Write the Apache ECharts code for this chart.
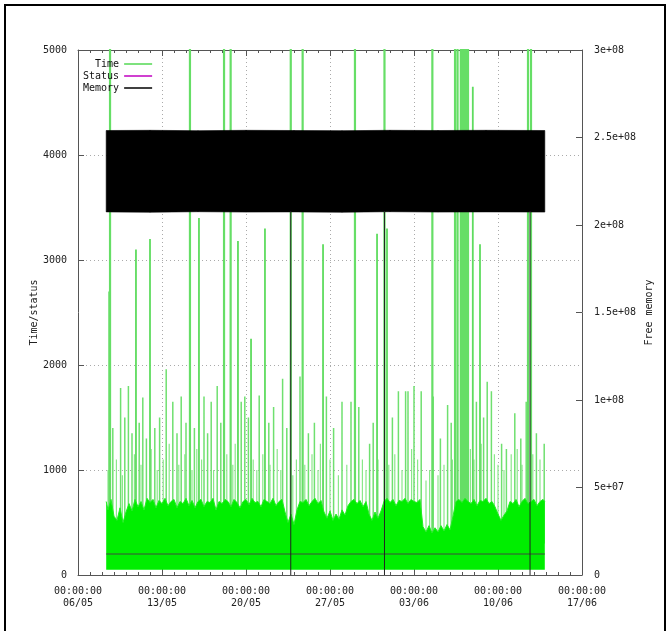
<!DOCTYPE html>
<html><head><meta charset="utf-8">
<script src="https://cdn.jsdelivr.net/npm/echarts@6/dist/echarts.min.js"></script>
<style>html,body{margin:0;padding:0;background:#fff}#c{width:670px;height:631px}</style>
</head><body><div id="c"></div>
<script>
// x values are days since 06/05 00:00:00
const xTickLabels = ['00:00:00\n06/05','00:00:00\n13/05','00:00:00\n20/05','00:00:00\n27/05','00:00:00\n03/06','00:00:00\n10/06','00:00:00\n17/06'];
const memTickLabels = ['0','5e+07','1e+08','1.5e+08','2e+08','2.5e+08','3e+08'];

// Time: dense body (top of solid green), [day, ms]
const timeBody = [[2.35,700],[2.5,620],[2.75,720],[3.0,560],[3.25,520],[3.5,640],[3.75,500],[4.0,600],[4.25,680],[4.5,610],[4.75,720],[5.0,650],[5.25,700],[5.5,620],[5.75,730],[6.0,690],[6.25,720],[6.5,640],[6.75,710],[7.0,680],[7.25,730],[7.5,660],[7.75,700],[8.0,720],[8.25,640],[8.5,700],[8.75,680],[9.0,730],[9.25,660],[9.5,710],[9.75,640],[10.0,700],[10.25,720],[10.5,650],[10.75,700],[11.0,690],[11.25,730],[11.5,620],[11.75,700],[12.0,680],[12.25,720],[12.5,700],[12.75,650],[13.0,720],[13.25,690],[13.5,640],[13.75,700],[14.0,720],[14.25,670],[14.5,730],[14.75,690],[15.0,700],[15.25,650],[15.5,720],[15.75,700],[16.0,680],[16.25,730],[16.5,660],[16.75,700],[17.0,720],[17.25,600],[17.5,500],[17.75,580],[18.0,480],[18.25,620],[18.5,700],[18.75,690],[19.0,720],[19.25,660],[19.5,700],[19.75,730],[20.0,680],[20.25,710],[20.5,600],[20.75,540],[21.0,610],[21.25,520],[21.5,580],[21.75,530],[22.0,620],[22.25,570],[22.5,660],[22.75,700],[23.0,720],[23.25,680],[23.5,710],[23.75,650],[24.0,700],[24.25,580],[24.5,520],[24.75,600],[25.0,540],[25.25,610],[25.5,700],[25.75,730],[26.0,690],[26.25,720],[26.5,660],[26.75,710],[27.0,700],[27.25,730],[27.5,680],[27.75,720],[28.0,700],[28.25,690],[28.5,720],[28.75,460],[29.0,410],[29.25,470],[29.5,400],[29.75,450],[30.0,410],[30.25,470],[30.5,420],[30.75,480],[31.0,430],[31.25,560],[31.5,700],[31.75,720],[32.0,690],[32.25,730],[32.5,700],[32.75,680],[33.0,720],[33.25,660],[33.5,710],[33.75,700],[34.0,730],[34.25,680],[34.5,700],[34.75,650],[35.0,580],[35.25,520],[35.5,570],[35.75,610],[36.0,700],[36.25,680],[36.5,720],[36.75,650],[37.0,700],[37.25,730],[37.5,680],[37.75,700],[38.0,720],[38.25,660],[38.5,700],[38.75,720],[38.9,700]];
const timeBodyFloor = 50;

// Time: spikes above the dense body, [day, ms]
const timeSpikesLow = [[2.5,1000],[3.2,1100],[3.7,950],[4.7,1150],[5.25,1050],[6.1,1200],[6.6,1000],[7.1,1100],[7.6,1250],[8.4,1050],[8.9,1150],[9.5,1000],[9.9,1200],[10.3,1100],[11.3,1000],[12.4,1150],[12.9,1050],[13.1,1250],[14.6,1100],[14.9,1000],[15.4,1150],[16.0,1050],[16.6,1200],[16.9,1000],[17.9,950],[18.2,1100],[18.9,1050],[19.5,1150],[20.0,1000],[20.2,1250],[21.0,1100],[21.7,950],[22.4,1050],[23.7,1100],[24.0,1000],[25.0,1100],[25.9,1050],[26.4,1150],[27.0,1000],[27.8,1200],[28.3,1100],[29.0,900],[29.3,1000],[30.0,950],[30.5,1050],[31.2,1100],[32.7,1200],[33.0,1100],[33.6,1250],[34.7,1150],[35.0,1050],[35.5,1000],[36.1,1150],[36.6,1200],[37.0,1050],[37.9,1150],[38.5,1100]];
const timeSpikesMid = [[2.9,1400],[3.55,1780],[3.9,1500],[4.2,1800],[4.5,1350],[5.1,1450],[5.4,1690],[5.7,1300],[6.4,1400],[6.8,1500],[7.35,1960],[7.9,1650],[8.25,1350],[8.6,1700],[9.0,1450],[9.7,1400],[10.5,1700],[10.8,1350],[11.1,1650],[11.6,1800],[11.9,1450],[13.6,1650],[13.9,1700],[14.2,1500],[15.1,1710],[15.9,1450],[16.3,1600],[17.05,1870],[17.4,1400],[18.5,1890],[19.2,1350],[19.7,1450],[20.7,1700],[21.3,1400],[22.0,1650],[22.75,1650],[23.4,1600],[24.3,1250],[24.6,1450],[26.2,1500],[26.7,1750],[27.3,1750],[27.5,1750],[28.0,1800],[28.6,1750],[29.6,1700],[30.2,1300],[30.8,1620],[31.1,1450],[33.2,1650],[33.8,1500],[34.1,1840],[34.45,1750],[35.3,1250],[35.7,1200],[36.4,1540],[36.9,1300],[37.35,1650],[38.2,1350],[38.85,1250]];
const timeSpikesHigh = [[2.6,2700],[4.83,3100],[6.0,3200],[10.08,3400],[13.33,3180],[14.42,2250],[15.58,3300],[20.42,3150],[24.92,3250],[25.75,3300],[32.9,4650],[33.5,3150]];
const timeSpikesOff = [[2.67,6000],[9.33,6000],[12.17,6000],[12.72,6000],[17.73,6000],[18.72,6000],[23.08,6000],[25.54,6000],[29.53,6000],[31.42,6000],[31.63,6000],[31.9,6000],[32.0,6000],[32.1,6000],[32.2,6000],[32.3,6000],[32.4,6000],[32.5,6000],[37.5,6000],[37.75,6000]];

// Status: [day, code]
const statusData = [[2.35,200],[38.9,200]];

// Free memory band: [day, low, high]
const memBand = [[2.35,2.075e8,2.54e8],[6,2.073e8,2.541e8],[10,2.076e8,2.539e8],[14,2.074e8,2.541e8],[18,2.075e8,2.54e8],[22,2.073e8,2.539e8],[26,2.076e8,2.541e8],[30,2.074e8,2.54e8],[34,2.075e8,2.541e8],[38.9,2.074e8,2.54e8]];
// Free memory drops to zero: [day, value before, value at drop]
const memDrops = [[17.73,2.08e8,0],[25.54,2.08e8,0],[37.67,2.08e8,0]];

function spikeLine(list, base) {
  const out = [];
  list.forEach(p => { out.push([p[0], base]); out.push([p[0], p[1]]); out.push([p[0], '-']); });
  return out;
}
const dropLine = [];
memDrops.forEach(p => { dropLine.push([p[0], p[1]]); dropLine.push([p[0], p[2]]); dropLine.push([p[0], '-']); });

function renderBand(params, api) {
  const i = params.dataIndex;
  if (i >= memBand.length - 1) return null;
  const a = memBand[i], b = memBand[i + 1];
  const pts = [api.coord([a[0], a[2]]), api.coord([b[0], b[2]]), api.coord([b[0], b[1]]), api.coord([a[0], a[1]])];
  return {type: 'polygon', shape: {points: pts}, style: {fill: '#000', stroke: '#000', lineWidth: 0.6}};
}

const mono = 'DejaVu Sans Mono';
const axisColor = '#555';
const chart = echarts.init(document.getElementById('c'), null, {renderer: 'canvas'});
chart.setOption({
  animation: false,
  backgroundColor: '#fff',
  grid: {left: 78, right: 88, top: 50, bottom: 56},
  graphic: [{type: 'rect', shape: {x: 5, y: 5, width: 660, height: 660}, style: {fill: null, stroke: '#000', lineWidth: 2}, z: 100}],
  legend: {
    left: 78, top: 54, orient: 'vertical', align: 'right', itemWidth: 28, itemHeight: 2, itemGap: 2, icon: 'rect',
    textStyle: {fontFamily: mono, fontSize: 10, color: '#111'},
    data: [
      {name: 'Time', itemStyle: {color: '#7ee27e'}},
      {name: 'Status', itemStyle: {color: '#d040d0'}},
      {name: 'Memory', itemStyle: {color: '#404040'}}
    ]
  },
  xAxis: [{
    type: 'value', min: 0, max: 42, interval: 7,
    axisLine: {onZero: false, lineStyle: {color: axisColor}},
    axisTick: {inside: true, length: 6, lineStyle: {color: axisColor}},
    minorTick: {show: true, splitNumber: 7, length: 3, lineStyle: {color: axisColor}},
    axisLabel: {margin: 10, fontFamily: mono, fontSize: 10, color: '#222', lineHeight: 12,
      formatter: v => xTickLabels[Math.round(v / 7)]},
    splitLine: {show: true, lineStyle: {color: '#aaa', type: [1, 3]}}
  }, {
    type: 'value', min: 0, max: 42, interval: 7, position: 'top',
    axisLine: {onZero: false, lineStyle: {color: axisColor}},
    axisTick: {inside: true, length: 6, lineStyle: {color: axisColor}},
    minorTick: {show: true, splitNumber: 7, length: 3, lineStyle: {color: axisColor}},
    axisLabel: {show: false}, splitLine: {show: false}
  }],
  yAxis: [{
    type: 'value', min: 0, max: 5000, interval: 1000,
    name: 'Time/status', nameLocation: 'middle', nameGap: 39, nameRotate: 90, nameMoveOverlap: false,
    nameTextStyle: {fontFamily: mono, fontSize: 10, color: '#222'},
    axisLine: {show: true, onZero: false, lineStyle: {color: axisColor}},
    axisTick: {show: true, inside: true, length: 6, lineStyle: {color: axisColor}},
    axisLabel: {margin: 11, fontFamily: mono, fontSize: 10, color: '#222', formatter: v => String(v)},
    splitLine: {show: true, lineStyle: {color: '#aaa', type: [1, 3]}}
  }, {
    type: 'value', min: 0, max: 3e8, interval: 5e7, position: 'right',
    name: 'Free memory', nameLocation: 'middle', nameGap: 62, nameRotate: 90, nameMoveOverlap: false,
    nameTextStyle: {fontFamily: mono, fontSize: 10, color: '#222'},
    axisLine: {show: true, onZero: false, lineStyle: {color: axisColor}},
    axisTick: {show: true, inside: true, length: 6, lineStyle: {color: axisColor}},
    axisLabel: {margin: 12, fontFamily: mono, fontSize: 10, color: '#222',
      formatter: v => memTickLabels[Math.round(v / 5e7)]},
    splitLine: {show: false}
  }],
  series: [
    {name: 'Time', type: 'line', symbol: 'none', data: spikeLine(timeSpikesLow, 300), lineStyle: {color: '#8ae88a', width: 1.2}, z: 2},
    {name: 'Time', type: 'line', symbol: 'none', data: spikeLine(timeSpikesMid, 300), lineStyle: {color: '#6fe06f', width: 1.5}, z: 2},
    {name: 'Time', type: 'line', symbol: 'none', data: spikeLine(timeSpikesHigh, 300), lineStyle: {color: '#5fdc5f', width: 1.8}, z: 2},
    {name: 'Time', type: 'line', symbol: 'none', data: spikeLine(timeSpikesOff, 300), lineStyle: {color: '#66de66', width: 2.2}, z: 2},
    {name: 'Time', type: 'line', symbol: 'none', data: timeBody, lineStyle: {color: '#22ee22', width: 1},
      areaStyle: {color: '#00ee00', opacity: 1, origin: timeBodyFloor}, z: 3},
    {name: 'Status', type: 'line', symbol: 'none', data: statusData, lineStyle: {color: '#3d4a3d', width: 1}, z: 4},
    {name: 'Memory', type: 'custom', yAxisIndex: 1, data: memBand, encode: {x: 0, y: [1, 2]}, renderItem: renderBand, clip: true, z: 5},
    {name: 'Memory', type: 'line', symbol: 'none', yAxisIndex: 1, data: dropLine, lineStyle: {color: '#222', width: 1}, z: 5}
  ]
});
</script></body></html>
